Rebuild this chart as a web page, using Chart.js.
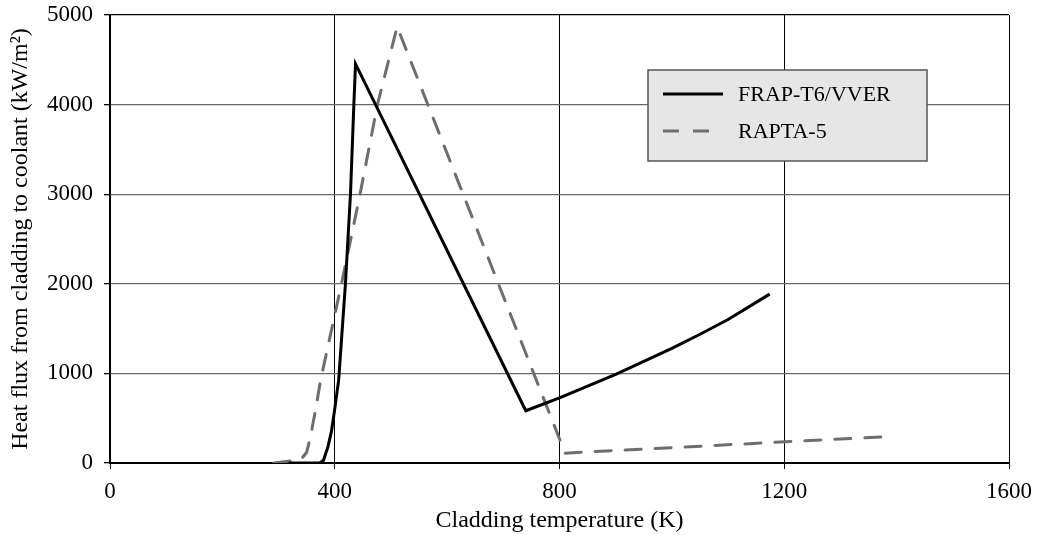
<!DOCTYPE html>
<html>
<head>
<meta charset="utf-8">
<script src="https://cdn.jsdelivr.net/npm/chart.js@4"></script>
<style>
  html, body { margin: 0; padding: 0; background: #fff; }
  #wrap { width: 1038px; height: 535px; }
</style>
</head>
<body>
<div id="wrap"><canvas id="heatflux" width="1038" height="535"></canvas></div>
<script>
// values (K, kW/m2)
const frapT = [318, 373, 380, 388, 394, 399, 407, 419, 428, 434, 437, 740, 800, 900, 1000, 1051, 1100, 1174];
const frapQ = [0, 0, 30, 182, 350, 557, 928, 2000, 3000, 4000, 4454, 583, 726, 989, 1280, 1440, 1601, 1885];

const raptaT = [292, 323, 340, 350, 357, 366, 375, 412, 445, 476, 511, 810, 1384];
const raptaQ = [0, 25, 40, 120, 300, 600, 930, 2000, 3000, 4000, 4870, 110, 295];

const xTicks = [0, 400, 800, 1200, 1600];
const yTicks = [0, 1000, 2000, 3000, 4000, 5000];

const seriesNames = ['FRAP-T6/VVER', 'RAPTA-5'];

const FONT = 'Liberation Serif';

function pts(xs, ys) {
    return xs.map((x, i) => ({x: x, y: ys[i]}));
}

// boxed legend like the original figure
const boxLegend = {
    id: 'boxLegend',
    afterDraw(chart) {
        const c = chart.ctx;
        const area = chart.chartArea;
        const w = 279, h = 91;
        const bx = area.right - 82 - w;
        const by = area.top + 55;
        c.save();
        c.fillStyle = '#e6e6e6';
        c.fillRect(bx, by, w, h);
        c.strokeStyle = '#555';
        c.lineWidth = 1.5;
        c.strokeRect(bx, by, w, h);
        c.font = '22px "' + FONT + '"';
        c.textBaseline = 'middle';
        chart.data.datasets.forEach((ds, i) => {
            const yy = by + 24 + i * 37;
            c.strokeStyle = ds.borderColor;
            c.lineWidth = ds.borderWidth;
            c.setLineDash(ds.borderDash || []);
            c.beginPath();
            c.moveTo(bx + 15, yy);
            c.lineTo(bx + 75, yy);
            c.stroke();
            c.setLineDash([]);
            c.fillStyle = '#000';
            c.fillText(ds.label, bx + 90, yy + 1);
        });
        c.restore();
    }
};

// keep the plot frame where the original has it, labels may overhang
function noPad(s) {
    s.paddingTop = 0; s.paddingBottom = 0;
    s.paddingLeft = 0; s.paddingRight = 0;
}

const ctx = document.getElementById('heatflux');

const chart = new Chart(ctx, {
    type: 'line',
    data: {
        datasets: [
            {
                label: seriesNames[0],
                data: pts(frapT, frapQ),
                borderColor: '#000',
                borderWidth: 3,
                pointRadius: 0,
                tension: 0,
                fill: false
            },
            {
                label: seriesNames[1],
                data: pts(raptaT, raptaQ),
                borderColor: '#6e6e6e',
                borderWidth: 3,
                borderDash: [16, 14],
                borderCapStyle: 'round',
                pointRadius: 0,
                tension: 0,
                fill: false
            }
        ]
    },
    options: {
        responsive: false,
        animation: false,
        layout: { padding: { left: 0, top: 15, right: 29, bottom: 0 } },
        plugins: {
            legend: { display: false },
            tooltip: { enabled: false }
        },
        scales: {
            x: {
                type: 'linear',
                min: xTicks[0],
                max: xTicks[xTicks.length - 1],
                afterBuildTicks: s => { s.ticks = xTicks.map(v => ({value: v})); },
                afterFit: s => { s.height = 72; noPad(s); },
                grid: { color: '#000', lineWidth: 1, tickLength: 6, drawOnChartArea: true },
                border: { color: '#000', width: 2 },
                ticks: { color: '#000', font: { family: FONT, size: 23 }, padding: 9, maxRotation: 0,
                         callback: v => String(v) },
                title: { display: true, text: 'Cladding temperature (K)', color: '#000',
                         font: { family: FONT, size: 24 }, padding: { top: 0, bottom: 0 } }
            },
            y: {
                min: yTicks[0],
                max: yTicks[yTicks.length - 1],
                afterBuildTicks: s => { s.ticks = yTicks.map(v => ({value: v})); },
                afterFit: s => { s.width = 110; noPad(s); },
                grid: {
                    color: c => (c.tick && (c.tick.value === 0 || c.tick.value === 5000)) ? '#000' : '#6a6a6a',
                    lineWidth: 1.3,
                    tickColor: '#000',
                    tickLength: 6
                },
                border: { color: '#000', width: 1.5 },
                ticks: { color: '#000', font: { family: FONT, size: 23 }, padding: 11,
                         callback: v => String(v) },
                title: { display: true, text: 'Heat flux from cladding to coolant (kW/m²)', color: '#000',
                         font: { family: FONT, size: 24 }, padding: { top: 6, bottom: 0 } }
            }
        }
    },
    plugins: [boxLegend]
});
</script>
</body>
</html>
